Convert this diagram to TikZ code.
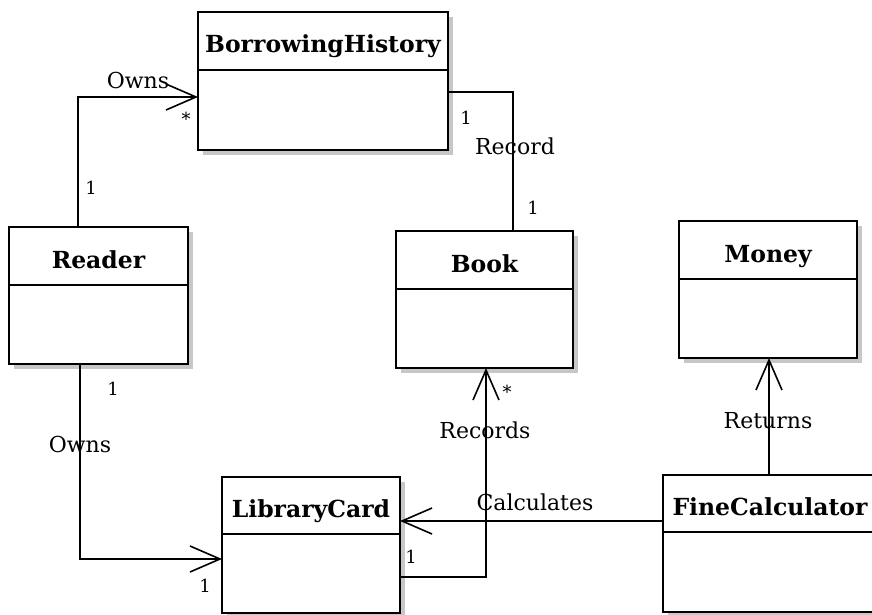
\documentclass[tikz,border=0pt]{standalone}
\usepackage{fontspec}
\setmainfont{DejaVu Serif}
\usetikzlibrary{positioning,arrows.meta,shadows}
\newcommand{\umlTitle}[1]{\fontsize{23.5}{27}\selectfont\bfseries #1}

\begin{document}
\begin{tikzpicture}[x=1pt,y=-1pt,
  classhead/.style={draw, line width=1.6pt, fill=white, anchor=north west, inner sep=0pt, outer sep=0pt,
    text height=24pt, text depth=0pt,
    drop shadow={shadow xshift=5pt, shadow yshift=-5pt, fill=black!22, opacity=1}},
  classbody/.style={draw, line width=1.6pt, fill=white, inner sep=0pt, outer sep=0pt,
    drop shadow={shadow xshift=5pt, shadow yshift=-5pt, fill=black!22, opacity=1}},
  assoc/.style={line width=1.6pt},
  navig/.style={line width=1.6pt, -{Straight Barb[length=30pt, width=26pt]}},
  role/.style={inner sep=0pt, font=\fontsize{22}{26}\selectfont},
  mult/.style={inner sep=0pt, font=\fontsize{18}{20}\selectfont}]
\useasboundingbox (0,0) rectangle (872,615);
\clip (0,0) rectangle (872,615);
% classes
\node[classhead, minimum width=250pt, minimum height=58pt] (histhead) at (198,12) {\umlTitle{BorrowingHistory}};
\node[classbody, minimum width=250pt, minimum height=80pt, below=0pt of histhead] (histbody) {};
\node[classhead, minimum width=179pt, minimum height=58pt] (readerhead) at (9,227) {\umlTitle{Reader}};
\node[classbody, minimum width=179pt, minimum height=79pt, below=0pt of readerhead] (readerbody) {};
\node[classhead, minimum width=177pt, minimum height=58pt] (bookhead) at (396,231) {\umlTitle{Book}};
\node[classbody, minimum width=177pt, minimum height=79pt, below=0pt of bookhead] (bookbody) {};
\node[classhead, minimum width=178pt, minimum height=58pt] (moneyhead) at (679,221) {\umlTitle{Money}};
\node[classbody, minimum width=178pt, minimum height=79pt, below=0pt of moneyhead] (moneybody) {};
\node[classhead, minimum width=178pt, minimum height=57pt] (cardhead) at (222,477) {\umlTitle{LibraryCard}};
\node[classbody, minimum width=178pt, minimum height=79pt, below=0pt of cardhead] (cardbody) {};
\node[classhead, minimum width=214pt, minimum height=57pt] (finehead) at (663,475) {\umlTitle{FineCalculator}};
\node[classbody, minimum width=214pt, minimum height=80pt, below=0pt of finehead] (finebody) {};
% associations
\draw[navig] ([xshift=69pt]readerhead.north west) |- ([yshift=13pt]histbody.west);
\draw[assoc] ([yshift=-22pt]histhead.south east) -| ([xshift=117pt]bookhead.north west);
\draw[navig] ([xshift=71pt]readerbody.south west) |- ([yshift=-25pt]cardbody.north west);
\draw[navig] ([yshift=-43pt]cardbody.north east) -| ([xshift=90pt]bookbody.south west);
\draw[navig] ([yshift=11pt]finehead.south west) coordinate (calcend) -- (calcend -| cardhead.east);
\draw[navig] ([xshift=106pt]finehead.north west) coordinate (retend) -- (retend |- moneybody.south);
% labels
\node[role] (ownshist) at (138,80) {Owns};
\node[mult] (ownshistmany) at (186,119) {*};
\node[mult] (ownshistone) at (91,188) {1};
\node[mult] (recordone) at (466,118) {1};
\node[role] (record) at (515,146) {Record};
\node[mult] (recordbook) at (533,208) {1};
\node[mult] (ownscardone) at (113,389) {1};
\node[role] (ownscard) at (80,444) {Owns};
\node[mult] (ownscardtwo) at (205,586) {1};
\node[mult] (recordscard) at (411,557) {1};
\node[mult] (recordsmany) at (507,392) {*};
\node[role] (records) at (485,430) {Records};
\node[role] (calculates) at (535,502) {Calculates};
\node[role] (returns) at (768,421) {Returns};
\end{tikzpicture}
\end{document}
